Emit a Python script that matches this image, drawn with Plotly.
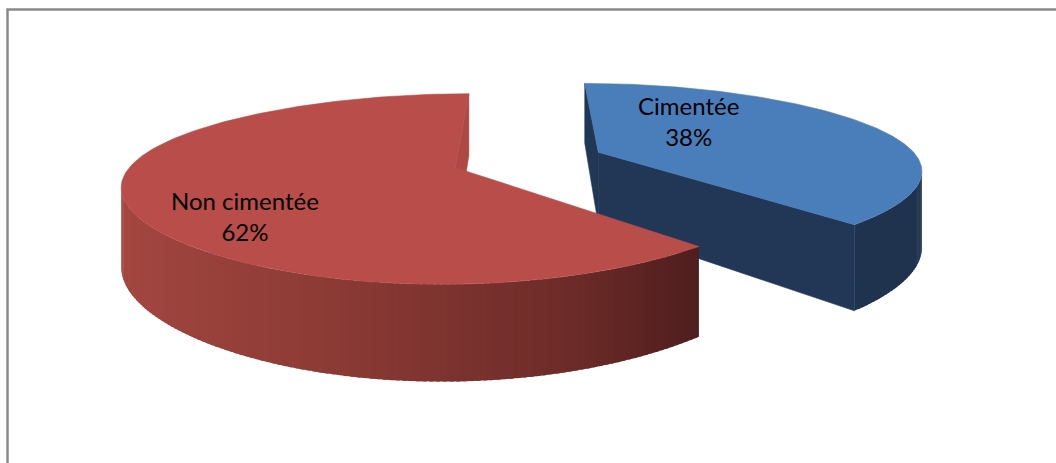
import numpy as np
import plotly.graph_objects as go

# ---- data -------------------------------------------------------------
categories = ["Cimentée", "Non cimentée"]
shares = [38, 62]

# ---- style ------------------------------------------------------------
top_colors = ["#4A7EBB", "#B94D4A"]
face_colors = ["#213755", "#AE4844"]          # radial cut faces
# wall shading keyed on the x component of the outward normal (sin θ)
side_ramps = [
    [(-1.0, (34, 54, 82)), (1.0, (31, 51, 79))],
    [(-1.0, (166, 72, 66)), (-0.3, (140, 58, 53)), (0.3, (110, 44, 41)), (0.75, (72, 27, 27))],
]
label_pos = [(688, 121), (245, 216)]

W, H_PX = 1056, 463

# ---- 3-D pie projection -------------------------------------------------
EXPLODE = 0.24           # offset of each slice along its mid-angle (radius = 1)
XC, YC = 528.0, 159.8    # screen position of the pie axis
SX, SZ, DEPTH = 320.6, 87.0, 74.0
KX, KY = 0.19, 0.22      # foreshortening towards the back


def project(x, z, bottom=False):
    x = np.asarray(x, float)
    z = np.asarray(z, float)
    px = 1.0 + KX * z
    py = 1.0 / (1.0 - KY * z)
    sx = XC + SX * x * px
    sy = YC + SZ * z * py + (DEPTH * py if bottom else 0.0)
    return sx, sy


def ramp(stops, v):
    v = min(max(v, stops[0][0]), stops[-1][0])
    for (a, ca), (b, cb) in zip(stops[:-1], stops[1:]):
        if a <= v <= b:
            t = 0 if b == a else (v - a) / (b - a)
            c = [round(ca[k] + (cb[k] - ca[k]) * t) for k in range(3)]
            return "rgb(%d,%d,%d)" % tuple(c)
    return "rgb(%d,%d,%d)" % stops[-1][1]


def signed_area(xs, ys):
    m = len(xs)
    return 0.5 * sum(xs[k] * ys[(k + 1) % m] - xs[(k + 1) % m] * ys[k] for k in range(m))


fig = go.Figure()


def poly(xs, ys, color, lw=0.6):
    xs = [float(v) for v in xs] + [float(xs[0])]
    ys = [float(v) for v in ys] + [float(ys[0])]
    line = dict(color=color, width=lw) if lw > 0 else dict(width=0)
    fig.add_trace(go.Scatter(x=xs, y=ys, mode="lines", fill="toself",
                             fillcolor=color, line=line,
                             hoverinfo="skip", showlegend=False))


total = float(sum(shares))
bounds = np.concatenate([[0.0], np.cumsum(shares) / total * 360.0])

slices = []
for i, name in enumerate(categories):
    a0, a1 = np.radians(bounds[i]), np.radians(bounds[i + 1])
    mid = 0.5 * (a0 + a1)
    cx, cz = EXPLODE * np.sin(mid), -EXPLODE * np.cos(mid)
    slices.append((i, a0, a1, cx, cz))

# back-to-front
slices.sort(key=lambda s: s[4])

for i, a0, a1, cx, cz in slices:
    def rim(t):
        return cx + np.sin(t), cz - np.cos(t)

    def wall(t1, t2):
        x1, z1 = rim(t1)
        x2, z2 = rim(t2)
        p1, p2 = project(x1, z1), project(x2, z2)
        q2, q1 = project(x2, z2, True), project(x1, z1, True)
        return [p1[0], p2[0], q2[0], q1[0]], [p1[1], p2[1], q2[1], q1[1]]

    # radial cut faces (start and end of the slice)
    for t, start in ((a0, True), (a1, False)):
        rx, rz = rim(t)
        ctx, cty = project(cx, cz)
        cbx, cby = project(cx, cz, True)
        ptx, pty = project(rx, rz)
        pbx, pby = project(rx, rz, True)
        if start:
            xs, ys = [ctx, ptx, pbx, cbx], [cty, pty, pby, cby]
        else:
            xs, ys = [ptx, ctx, cbx, pbx], [pty, cty, cby, pby]
        if signed_area(xs, ys) < -0.5:
            poly(xs, ys, face_colors[i])

    # curved outer wall: thin strips that face the viewer, each one
    # overlapping the previous so that no seams show between them
    n = max(8, int(np.degrees(a1 - a0)))
    ts = np.linspace(a0, a1, n + 1)
    step = ts[1] - ts[0]
    first = True
    for t1, t2 in zip(ts[:-1], ts[1:]):
        xs, ys = wall(t1, t2)
        if signed_area(xs, ys) >= 0:
            continue
        lo = t1 if first else t1 - 0.6 * step
        first = False
        xs, ys = wall(lo, t2)
        poly(xs, ys, ramp(side_ramps[i], float(np.sin(0.5 * (t1 + t2)))), lw=0)

    # top face
    ts = np.linspace(a0, a1, 200)
    rx, rz = rim(ts)
    tx, ty = project(rx, rz)
    ccx, ccy = project(cx, cz)
    poly([ccx] + list(tx), [ccy] + list(ty), top_colors[i])

# data labels
for i, name in enumerate(categories):
    pct = round(100 * shares[i] / total)
    lx, ly = label_pos[i]
    fig.add_annotation(x=lx, y=ly, text=f"{name}<br>{pct}%", showarrow=False,
                       font=dict(family="Lato, Carlito, Calibri, sans-serif", size=24,
                                 color="#000000"),
                       xanchor="center", yanchor="middle", align="center")

# chart frame
fig.add_shape(type="rect", x0=7.5, y0=9.5, x1=W + 20, y1=H_PX + 20,
              line=dict(color="#8a8a8a", width=2.5), layer="above")

fig.update_layout(
    width=W, height=H_PX,
    margin=dict(l=0, r=0, t=0, b=0),
    paper_bgcolor="white", plot_bgcolor="white",
    xaxis=dict(range=[0, W], visible=False, fixedrange=True),
    yaxis=dict(range=[H_PX, 0], visible=False, fixedrange=True),
    showlegend=False,
)

fig.write_html("out.html", config={"displayModeBar": False})
